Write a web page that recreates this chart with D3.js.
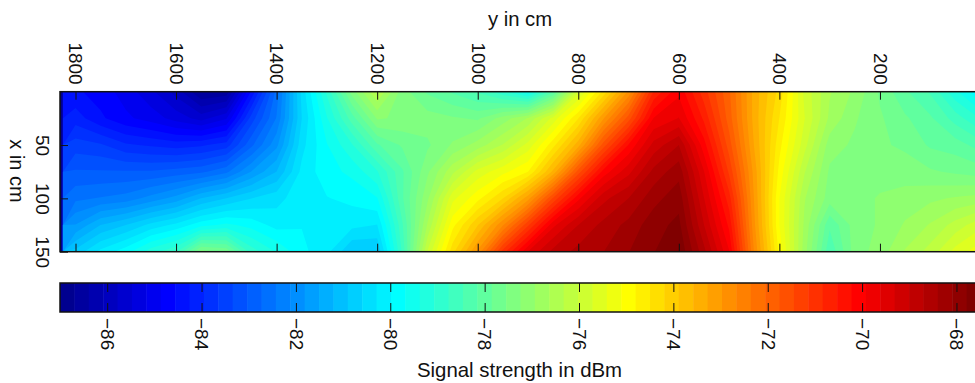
<!DOCTYPE html>
<html>
<head>
<meta charset="utf-8">
<script src="https://cdn.jsdelivr.net/npm/d3@7"></script>
<style>
body { margin: 0; background: #fff; }
svg { display: block; }
text { font-family: "Liberation Sans", Arial, sans-serif; fill: #111; }
</style>
</head>
<body>
<script>
// y positions of the columns (cm), x positions of the rows (cm)
var yCols = [1800, 1750, 1700, 1650, 1600, 1550, 1500, 1450, 1400, 1350, 1300, 1250, 1200, 1150, 1100, 1050, 1000, 950, 900, 850, 800, 750, 700, 650, 600, 550, 500, 450, 400, 350, 300, 250, 200, 150, 100, 50, 0];
var xRows = [0, 25, 50, 75, 100, 125, 150];

// signal strength in dBm, one list per row
var row0   = [-84.5, -84.7, -85.0, -85.4, -85.9, -86.7, -86.6, -84.5, -82.6, -80.5, -79.0, -77.4, -76.3, -77.4, -77.9, -78.2, -78.5, -79.0, -79.6, -78.2, -75.8, -74.4, -72.9, -70.8, -70.0, -71.0, -72.0, -73.4, -74.3, -75.8, -76.6, -77.0, -77.6, -78.1, -78.5, -79.3, -80.0];
var row25  = [-84.1, -84.5, -84.8, -85.0, -85.3, -85.6, -85.2, -83.5, -82.4, -80.6, -79.4, -78.3, -77.2, -77.3, -77.4, -77.5, -77.6, -77.1, -76.6, -75.6, -74.5, -73.0, -71.6, -69.9, -69.6, -70.6, -71.9, -73.4, -74.5, -75.7, -76.7, -77.2, -77.5, -77.8, -78.1, -78.6, -79.1];
var row50  = [-83.5, -83.6, -83.9, -84.0, -84.1, -84.0, -83.8, -82.8, -81.9, -80.4, -79.7, -79.1, -78.2, -77.8, -77.6, -77.2, -76.8, -76.3, -75.6, -74.6, -73.4, -71.6, -70.2, -69.2, -68.7, -70.1, -71.6, -73.3, -74.7, -75.9, -77.1, -77.3, -77.5, -77.6, -77.9, -78.0, -78.3];
var row75  = [-83.0, -83.0, -83.0, -83.0, -82.9, -82.8, -82.5, -81.8, -81.2, -80.2, -79.8, -79.6, -79.1, -78.2, -77.3, -76.4, -75.6, -75.2, -74.8, -73.5, -71.6, -70.1, -69.4, -68.6, -68.2, -69.6, -71.2, -73.1, -74.9, -76.3, -77.3, -77.3, -77.4, -77.4, -77.5, -77.6, -77.7];
var row100 = [-82.5, -82.4, -82.3, -82.0, -81.7, -81.2, -80.9, -80.6, -80.4, -80.1, -80.0, -79.9, -79.7, -78.2, -77.0, -75.5, -74.9, -74.2, -73.1, -71.4, -70.0, -69.1, -68.7, -68.2, -67.9, -69.3, -70.7, -73.0, -75.1, -76.6, -77.4, -77.4, -77.2, -77.1, -77.0, -76.9, -76.8];
var row125 = [-81.8, -81.2, -80.9, -80.5, -80.2, -79.8, -79.6, -79.8, -80.1, -80.0, -80.0, -80.2, -80.3, -78.5, -76.6, -74.9, -73.9, -72.7, -71.2, -69.7, -69.0, -68.6, -68.3, -67.9, -67.7, -69.0, -70.3, -72.9, -75.1, -76.7, -78.1, -77.4, -77.2, -76.9, -76.6, -76.2, -75.8];
var row150 = [-80.8, -80.2, -79.8, -79.2, -78.8, -77.4, -77.6, -78.9, -79.4, -79.9, -80.2, -80.9, -80.9, -78.7, -76.0, -74.3, -72.9, -71.0, -69.6, -68.9, -68.6, -68.4, -68.1, -67.8, -67.5, -68.6, -69.9, -72.7, -74.9, -76.8, -78.4, -77.4, -77.1, -76.6, -76.2, -75.6, -75.2];

var yTicks = [1800, 1600, 1400, 1200, 1000, 800, 600, 400, 200];
var xTicks = [50, 100, 150];
var barTicks = [-86, -84, -82, -80, -78, -76, -74, -72, -70, -68];

var width = 975, height = 383, nLevels = 64;
var zMin = -87.0, zMax = -67.48;

var rows = [row0, row25, row50, row75, row100, row125, row150];
var values = d3.merge(rows);

function clamp(v) { return Math.max(0, Math.min(1, v)); }

// same 64 step blue-cyan-yellow-red map as the reference
var jet = d3.range(1, nLevels + 1).map(function (i) {
    var t = i / nLevels;
    return d3.rgb(
        255 * clamp(Math.min(4 * t - 1.5, -4 * t + 4.5)),
        255 * clamp(Math.min(4 * t - 0.5, -4 * t + 3.5)),
        255 * clamp(Math.min(4 * t + 0.5, -4 * t + 2.5))
    ).formatHex();
});

var yScale = d3.scaleLinear().domain([1800, 0]).range([75.5, 980.5]);
var xScale = d3.scaleLinear().domain([0, 150]).range([91.7, 251.7]);
var zScale = d3.scaleLinear().domain([zMin, zMax]).range([60, 981]);

// contour grid coordinates -> data -> pixels
var colIndex = d3.scaleLinear().domain([0.5, yCols.length - 0.5]).range([yCols[0], yCols[yCols.length - 1]]);
var rowIndex = d3.scaleLinear().domain([0.5, xRows.length - 0.5]).range([xRows[0], xRows[xRows.length - 1]]);

var path = d3.geoPath(d3.geoTransform({
    point: function (c, r) {
        this.stream.point(yScale(colIndex(c)), xScale(rowIndex(r)));
    }
}));

var svg = d3.select("body").append("svg")
    .attr("width", width)
    .attr("height", height);

svg.append("clipPath").attr("id", "plot-clip")
    .append("rect")
    .attr("x", 60).attr("y", xScale(0))
    .attr("width", 925).attr("height", xScale(150) - xScale(0));

var levelStep = (zMax - zMin) / nLevels;
var thresholds = d3.range(nLevels).map(function (i) { return zMin + i * levelStep; });

var contours = d3.contours()
    .size([yCols.length, xRows.length])
    .thresholds(thresholds)
    .smooth(true)(values);

var plot = svg.append("g").attr("clip-path", "url(#plot-clip)");

plot.append("rect")
    .attr("x", 60).attr("y", xScale(0))
    .attr("width", 925).attr("height", xScale(150) - xScale(0))
    .attr("fill", jet[0]);

plot.selectAll("path")
    .data(contours)
    .join("path")
    .attr("d", path)
    .attr("fill", function (d, i) { return jet[i]; });

// plot axes, ticks point inwards
function styleAxis(g) {
    g.selectAll("line").attr("stroke", "#111").attr("stroke-width", 1);
    g.selectAll(".domain").remove();
    g.selectAll("text").style("font-size", "19px").attr("fill", "#111");
}

svg.append("g")
    .attr("transform", "translate(0," + xScale(0) + ")")
    .call(d3.axisTop(yScale).tickValues(yTicks).tickSizeInner(-8).tickSizeOuter(0).tickFormat(d3.format("d")))
    .call(styleAxis)
    .selectAll("text")
    .attr("transform", "rotate(90)")
    .attr("text-anchor", "end")
    .attr("x", -7).attr("y", 0).attr("dy", "0.35em");

svg.append("g")
    .attr("transform", "translate(0," + xScale(150) + ")")
    .call(d3.axisBottom(yScale).tickValues(yTicks).tickSizeInner(-8).tickSizeOuter(0).tickFormat(""))
    .call(styleAxis);

svg.append("g")
    .attr("transform", "translate(60,0)")
    .call(d3.axisLeft(xScale).tickValues(xTicks).tickSizeInner(-8).tickSizeOuter(0))
    .call(styleAxis)
    .selectAll("text")
    .attr("transform", "translate(-17,0) rotate(90)")
    .attr("text-anchor", "middle")
    .attr("x", 0).attr("y", 0).attr("dy", "0.35em");

svg.append("rect")
    .attr("x", 60).attr("y", xScale(0))
    .attr("width", 925).attr("height", xScale(150) - xScale(0))
    .attr("fill", "none").attr("stroke", "#111").attr("stroke-width", 1.5);

// colour bar
var barTop = 283, barBottom = 312;

svg.append("g").selectAll("rect")
    .data(thresholds)
    .join("rect")
    .attr("x", function (d) { return zScale(d); })
    .attr("y", barTop)
    .attr("width", levelStep * 47.18 + 0.5)
    .attr("height", barBottom - barTop)
    .attr("fill", function (d, i) { return jet[i]; });

svg.append("g")
    .attr("transform", "translate(0," + barBottom + ")")
    .call(d3.axisBottom(zScale).tickValues(barTicks).tickSizeInner(-9).tickSizeOuter(0).tickFormat(d3.format("d")))
    .call(styleAxis)
    .selectAll("text")
    .attr("transform", "rotate(90)")
    .attr("text-anchor", "start")
    .attr("x", 6).attr("y", 0).attr("dy", "0.35em");

svg.append("g")
    .attr("transform", "translate(0," + barTop + ")")
    .call(d3.axisTop(zScale).tickValues(barTicks).tickSizeInner(-9).tickSizeOuter(0).tickFormat(""))
    .call(styleAxis);

svg.append("rect")
    .attr("x", 60).attr("y", barTop)
    .attr("width", 925).attr("height", barBottom - barTop)
    .attr("fill", "none").attr("stroke", "#111").attr("stroke-width", 1.5);

// titles
svg.append("text")
    .attr("x", 520).attr("y", 26)
    .attr("text-anchor", "middle")
    .style("font-size", "20.3px")
    .text("y in cm");

svg.append("text")
    .attr("transform", "translate(17,171) rotate(90)")
    .attr("text-anchor", "middle")
    .attr("dy", "0.35em")
    .style("font-size", "20px")
    .text("x in cm");

svg.append("text")
    .attr("x", 519.5).attr("y", 377)
    .attr("text-anchor", "middle")
    .style("font-size", "20.4px")
    .text("Signal strength in dBm");
</script>
</body>
</html>
